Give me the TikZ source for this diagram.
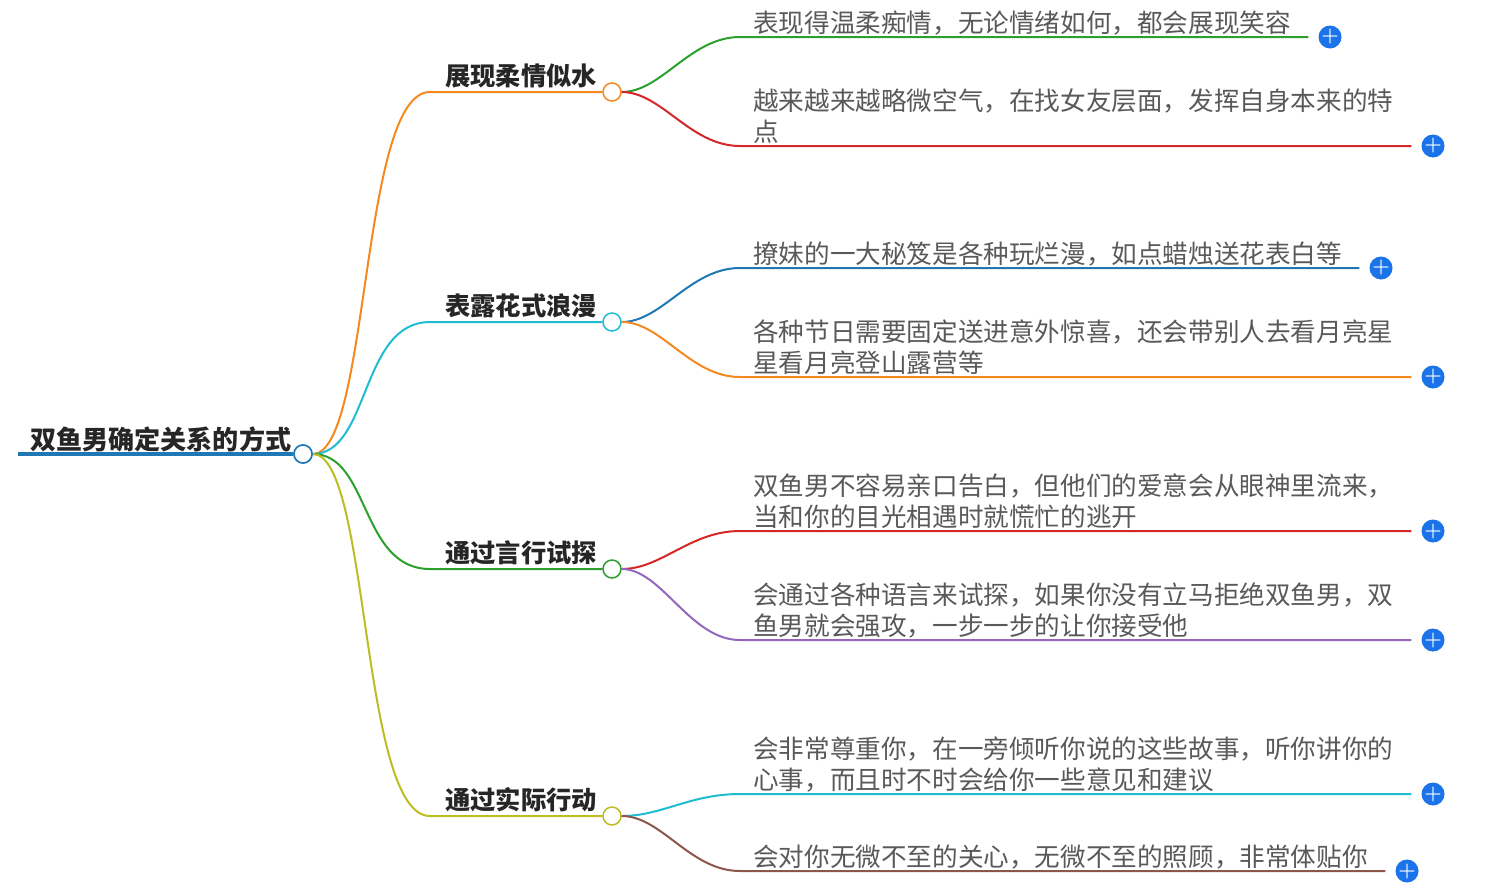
\documentclass[tikz,border=0pt]{standalone}
\usepackage{fontspec}
\newfontfamily\cjk{Noto Sans CJK SC}
\begin{document}
\begin{tikzpicture}[x=1pt,y=-1pt,
  leaf/.style={anchor=west,inner sep=0pt,font=\cjk\fontsize{25.6}{31}\selectfont,text=black!65,align=left},
  br/.style={anchor=west,inner sep=0pt,font=\cjk\bfseries\fontsize{25.3}{30}\selectfont,text=black!85},
  dot/.style={circle,draw,fill=white,line width=1.5pt,minimum size=18pt,inner sep=0pt},
  plus/.style={circle,minimum size=23pt,inner sep=0pt,text=white,font=\bfseries\fontsize{20}{20}\selectfont}]
\definecolor{cO}{HTML}{F5891F}\definecolor{cC}{HTML}{1FBCD2}\definecolor{cG}{HTML}{2CA02C}
\definecolor{cY}{HTML}{BCBD22}\definecolor{cR}{HTML}{D62728}\definecolor{cB}{HTML}{1F77B4}
\definecolor{cP}{HTML}{9467BD}\definecolor{cBr}{HTML}{8C564B}\definecolor{pb}{HTML}{1A73E8}
\tikzset{plus/.append style={fill=pb}}
\useasboundingbox (0,0) rectangle (1490,892);
\node[anchor=west,inner sep=0pt,font=\cjk\bfseries\fontsize{26.1}{30}\selectfont,text=black!85] (root) at (30,439) {双鱼男确定关系的方式};
\coordinate (rs) at (18,454);
\node[dot,draw=cB] (r) at (303,454) {};
\draw[cB,line width=4.5pt] (rs) -- (r.west);
% branches
\foreach \n/\y/\c/\t in {a/92/cO/展现柔情似水,b/322/cC/表露花式浪漫,c/569/cG/通过言行试探,d/816/cY/通过实际行动}{
  \node[br] (t\n) at (445,\y-16) {\t};
  \node[dot,draw=\c] (\n) at (612,\y) {};
  \draw[\c,line width=2pt] (r.east) .. controls (370,454) and (360,\y) .. (430,\y) -- (\n.west);
}
\node[dot,draw=cB] at (303,454) {};
% leaves
\foreach \p/\y/\c/\e/\t in {a/37/cG/1330/{表现得温柔痴情，无论情绪如何，都会展现笑容},
  a/146/cR/1433/{越来越来越略微空气，在找女友层面，发挥自身本来的特\\点},
  b/268/cB/1381/{撩妹的一大秘笈是各种玩烂漫，如点蜡烛送花表白等},
  b/377/cO/1433/{各种节日需要固定送进意外惊喜，还会带别人去看月亮星\\星看月亮登山露营等},
  c/531/cR/1433/{双鱼男不容易亲口告白，但他们的爱意会从眼神里流来，\\当和你的目光相遇时就慌忙的逃开},
  c/640/cP/1433/{会通过各种语言来试探，如果你没有立马拒绝双鱼男，双\\鱼男就会强攻，一步一步的让你接受他},
  d/794/cC/1433/{会非常尊重你，在一旁倾听你说的这些故事，听你讲你的\\心事，而且时不时会给你一些意见和建议},
  d/871/cBr/1407/{会对你无微不至的关心，无微不至的照顾，非常体贴你}}{
  \node[leaf,anchor=south west] (l\y) at (753,\y-2) {\t};
  \node[plus] (p\y) at (\e,\y) {+};
  \draw[\c,line width=2pt] (\p.east) .. controls +(40,0) and (690,\y) .. (740,\y) -- ([xshift=-10pt]p\y.west);
}
\end{tikzpicture}
\end{document}
